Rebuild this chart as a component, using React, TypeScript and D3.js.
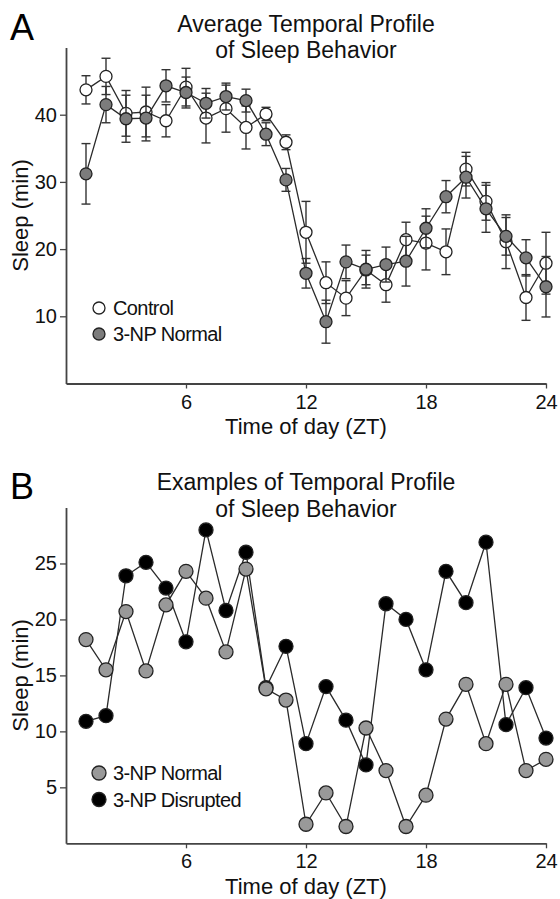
import React, { useRef, useEffect } from "react";
import * as d3 from "d3";

// Hours (ZT) at which sleep was scored
const hours = [1, 2, 3, 4, 5, 6, 7, 8, 9, 10, 11, 12, 13, 14, 15, 16, 17, 18, 19, 20, 21, 22, 23, 24];
const xTicks = [6, 12, 18, 24];

// Panel A: group averages (mean, SEM)
const controlMean = [43.7, 45.7, 40.2, 40.4, 39.1, 44.1, 39.5, 40.9, 38.1, 40.1, 35.9, 22.5, 15.0, 12.7, 16.9, 14.7, 21.4, 20.9, 19.6, 31.9, 27.1, 21.1, 12.8, 17.9];
const controlSem = [2.1, 2.7, 3.4, 3.7, 2.4, 2.8, 3.7, 3.5, 3.2, 1.0, 1.1, 4.6, 3.1, 2.6, 2.2, 2.6, 2.6, 4.0, 3.4, 2.5, 2.8, 4.0, 3.4, 4.6];
const npNormalMean = [31.2, 41.5, 39.4, 39.5, 44.3, 43.3, 41.7, 42.7, 42.1, 37.1, 30.3, 16.4, 9.2, 18.1, 17.0, 17.7, 18.2, 23.1, 27.8, 30.7, 26.0, 21.9, 18.7, 14.4];
const npNormalSem = [4.5, 2.7, 3.5, 3.4, 2.4, 2.3, 2.2, 2.0, 1.7, 1.7, 1.7, 2.2, 3.2, 2.5, 2.8, 2.6, 3.7, 2.9, 2.4, 3.1, 3.5, 2.8, 2.7, 4.5];
const yTicksA = [10, 20, 30, 40];

// Panel B: single animal examples
const normalExample = [18.2, 15.5, 20.7, 15.4, 21.3, 24.3, 21.9, 17.1, 24.5, 13.8, 12.8, 1.7, 4.5, 1.5, 10.3, 6.5, 1.5, 4.3, 11.1, 14.2, 8.9, 14.2, 6.5, 7.5];
const disruptedExample = [10.9, 11.4, 23.9, 25.1, 22.8, 18.0, 28.0, 20.8, 26.0, 13.9, 17.6, 8.9, 14.0, 11.0, 7.0, 21.4, 20.0, 15.5, 24.3, 21.5, 26.9, 10.6, 13.9, 9.4];
const yTicksB = [5, 10, 15, 20, 25];

const FONT = "'Liberation Sans', Arial, Helvetica, sans-serif";

interface Series {
  label: string;
  values: number[];
  sem?: number[];
  fill: string;
}

const App: React.FC = () => {
  const svgRef = useRef<SVGSVGElement | null>(null);

  useEffect(() => {
    if (!svgRef.current) return;
    const svg = d3.select(svgRef.current);
    svg.selectAll("*").remove();

    const x = d3.scaleLinear().domain([0, 24]).range([66, 546]);

    const drawPanel = (
      letter: string,
      letterY: number,
      title: string[],
      titleY: number[],
      yDomain: [number, number],
      yRange: [number, number],
      yTicks: number[],
      series: Series[],
      r: number,
      legendY: number[],
      xLabelY: number
    ) => {
      const g = svg.append("g");
      const y = d3.scaleLinear().domain(yDomain).range(yRange);

      // Panel letter
      g.append("text")
        .attr("x", 10)
        .attr("y", letterY)
        .attr("font-size", 36)
        .attr("font-family", FONT)
        .attr("fill", "#000")
        .text(letter);

      // Title
      title.forEach((t, i) => {
        g.append("text")
          .attr("x", 306)
          .attr("y", titleY[i])
          .attr("text-anchor", "middle")
          .attr("font-size", 23)
          .attr("font-family", FONT)
          .attr("fill", "#111")
          .text(t);
      });

      // Axes
      const yAxis = g
        .append("g")
        .attr("transform", `translate(${x(0)},0)`)
        .call(d3.axisLeft(y).tickValues(yTicks).tickSize(6).tickSizeOuter(0).tickPadding(3));
      const xAxis = g
        .append("g")
        .attr("transform", `translate(0,${yRange[0]})`)
        .call(
          d3
            .axisBottom(x)
            .tickValues(xTicks)
            .tickSize(5)
            .tickSizeOuter(0)
            .tickPadding(6)
            .tickFormat(d3.format("d"))
        );
      [yAxis, xAxis].forEach((ax) => {
        ax.attr("font-size", 20).attr("font-family", FONT);
        ax.select(".domain").attr("stroke", "#444").attr("stroke-width", 1.8);
        ax.selectAll(".tick line").attr("stroke", "#444").attr("stroke-width", 1.3);
        ax.selectAll(".tick text").attr("fill", "#111");
      });

      // Axis titles
      g.append("text")
        .attr("transform", `translate(28,${(yRange[0] + yRange[1]) / 2}) rotate(-90)`)
        .attr("text-anchor", "middle")
        .attr("font-size", 22)
        .attr("font-family", FONT)
        .attr("fill", "#111")
        .text("Sleep (min)");
      g.append("text")
        .attr("x", 306)
        .attr("y", xLabelY)
        .attr("text-anchor", "middle")
        .attr("font-size", 22)
        .attr("font-family", FONT)
        .attr("fill", "#111")
        .text("Time of day (ZT)");

      const line = d3
        .line<number>()
        .x((_d, i) => x(hours[i]))
        .y((d) => y(d));

      series.forEach((s) => {
        const sg = g.append("g");
        if (s.sem) {
          const sem = s.sem;
          const eb = sg
            .selectAll(".eb")
            .data(s.values)
            .enter()
            .append("g")
            .attr("stroke", "#333")
            .attr("stroke-width", 1.4);
          eb.append("line")
            .attr("x1", (_d, i) => x(hours[i]))
            .attr("x2", (_d, i) => x(hours[i]))
            .attr("y1", (d, i) => y(d + sem[i]))
            .attr("y2", (d, i) => y(d - sem[i]));
          [1, -1].forEach((sign) => {
            eb.append("line")
              .attr("x1", (_d, i) => x(hours[i]) - 4.5)
              .attr("x2", (_d, i) => x(hours[i]) + 4.5)
              .attr("y1", (d, i) => y(d + sign * sem[i]))
              .attr("y2", (d, i) => y(d + sign * sem[i]));
          });
        }
        sg.append("path")
          .datum(s.values)
          .attr("d", line)
          .attr("fill", "none")
          .attr("stroke", "#2a2a2a")
          .attr("stroke-width", 1.3);
        sg.selectAll(".pt")
          .data(s.values)
          .enter()
          .append("circle")
          .attr("cx", (_d, i) => x(hours[i]))
          .attr("cy", (d) => y(d))
          .attr("r", r)
          .attr("fill", s.fill)
          .attr("stroke", "#222")
          .attr("stroke-width", 1.3);
      });

      // Legend (panel B lists the series in reverse of its draw order)
      const legendItems = letter === "A" ? series : [...series].reverse();
      legendItems.forEach((s, i) => {
        g.append("circle")
          .attr("cx", 99)
          .attr("cy", legendY[i])
          .attr("r", r)
          .attr("fill", s.fill)
          .attr("stroke", "#222")
          .attr("stroke-width", 1.3);
        g.append("text")
          .attr("x", 113)
          .attr("y", legendY[i] + 7)
          .attr("font-size", 20)
          .attr("letter-spacing", -0.6)
          .attr("font-family", FONT)
          .attr("fill", "#111")
          .text(s.label);
      });
    };

    drawPanel(
      "A",
      40,
      ["Average Temporal Profile", "of Sleep Behavior"],
      [32, 58],
      [0, 50],
      [383.5, 47.5],
      yTicksA,
      [
        { label: "Control", values: controlMean, sem: controlSem, fill: "#ffffff" },
        { label: "3-NP Normal", values: npNormalMean, sem: npNormalSem, fill: "#7c7c7c" },
      ],
      6,
      [308, 334],
      434
    );

    drawPanel(
      "B",
      499,
      ["Examples of Temporal Profile", "of Sleep Behavior"],
      [490, 517],
      [0, 30],
      [843.3, 507.5],
      yTicksB,
      [
        { label: "3-NP Disrupted", values: disruptedExample, fill: "#000000" },
        { label: "3-NP Normal", values: normalExample, fill: "#999999" },
      ],
      7,
      [773, 799.5],
      894
    );

    return () => {
      svg.selectAll("*").remove();
    };
  }, []);

  return (
    <svg
      ref={svgRef}
      width={560}
      height={899}
      style={{ position: "absolute", left: 0, top: 0, background: "#fff" }}
    />
  );
};

export default App;
